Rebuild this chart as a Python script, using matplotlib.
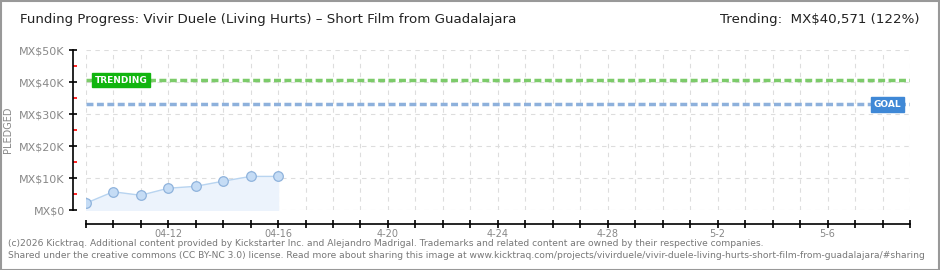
import pandas as pd
import matplotlib.pyplot as plt
from matplotlib.patches import Rectangle
from matplotlib.ticker import MultipleLocator, FuncFormatter

# ---------- DATA ----------
dates = ["2026-04-09", "2026-04-10", "2026-04-11", "2026-04-12",
         "2026-04-13", "2026-04-14", "2026-04-15", "2026-04-16"]
pledged = [2100, 5700, 4600, 6800, 7400, 9000, 10500, 10500]

goal = 33000
trending = 40571
axis_start = "2026-04-09"
axis_end = "2026-05-09"
label_dates = ["2026-04-12", "2026-04-16", "2026-04-20", "2026-04-24",
               "2026-04-28", "2026-05-02", "2026-05-06"]
label_text = ["04-12", "04-16", "4-20", "4-24", "4-28", "5-2", "5-6"]

title = "Funding Progress: Vivir Duele (Living Hurts) \u2013 Short Film from Guadalajara"
trend_text = "Trending:  MX$40,571 (122%)"
footer1 = ("(c)2026 Kicktraq. Additional content provided by Kickstarter Inc. and Alejandro Madrigal. "
           "Trademarks and related content are owned by their respective companies.")
footer2 = ("Shared under the creative commons (CC BY-NC 3.0) license. Read more about sharing this image at "
           "www.kicktraq.com/projects/vivirduele/vivir-duele-living-hurts-short-film-from-guadalajara/#sharing")

x = pd.to_datetime(dates)
x0 = pd.to_datetime(axis_start)
x1 = pd.to_datetime(axis_end)

# ---------- FIGURE ----------
fig = plt.figure(figsize=(9.4, 2.7), dpi=100)
W, H = 940, 270
ax = fig.add_axes([85.7 / W, 60 / H, (910 - 85.7) / W, 160 / H])

ax.set_xlim(x0, x1)
ax.set_ylim(0, 50000)

# ticks + grid
all_days = pd.date_range(x0, x1, freq="D")
ax.set_xticks(all_days)
ax.set_xticklabels([label_text[label_dates.index(d.strftime("%Y-%m-%d"))]
                    if d.strftime("%Y-%m-%d") in label_dates else "" for d in all_days])
ax.yaxis.set_major_locator(MultipleLocator(10000))
ax.yaxis.set_minor_locator(MultipleLocator(5000))
ax.yaxis.set_major_formatter(FuncFormatter(lambda v, p: "MX$0" if v == 0 else f"MX${int(v/1000)}K"))
ax.grid(True, which="major", color="#dddddd", linestyle=(0, (4, 4)), linewidth=0.8)

for s in ["top", "right"]:
    ax.spines[s].set_visible(False)
ax.spines["left"].set_position(("outward", 9))
ax.spines["bottom"].set_position(("outward", 10))
ax.spines["left"].set_linewidth(1.2)
ax.spines["bottom"].set_linewidth(1.2)

ax.tick_params(axis="y", which="major", direction="inout", length=6, width=1.2,
               color="black", labelsize=8, labelcolor="#888888", pad=3)
ax.tick_params(axis="y", which="minor", direction="in", length=3, width=1.2, color="red")
ax.tick_params(axis="x", which="major", direction="inout", length=6, width=1.2,
               color="black", labelsize=7, labelcolor="#888888", pad=1)

ax.set_ylabel("PLEDGED", fontsize=7, color="#888888")
ax.yaxis.set_label_coords((13 - 85.7) / (910 - 85.7), 0.5)

# data
ax.fill_between(x, pledged, 0, color="#ecf3fc", zorder=2)
ax.plot(x, pledged, color="#b8d4f0", linewidth=1, zorder=3)
ax.scatter(x, pledged, s=48, color="#c5dcf5", edgecolor="#8fb3dc", linewidth=0.9, zorder=4)

# goal + trending lines
ax.axhline(trending, color="#7ccb6a", linestyle=(0, (2, 1)), linewidth=2.5, zorder=3)
ax.axhline(goal, color="#8eb1dc", linestyle=(0, (2, 1)), linewidth=2.5, zorder=3)
ax.text(pd.to_datetime("2026-04-09 08:00"), trending, "TRENDING", color="white",
        fontsize=6.5, fontweight="bold", va="center", ha="left", zorder=5,
        bbox=dict(boxstyle="square,pad=0.3", facecolor="#11b50f", edgecolor="#11b50f"))
ax.text(pd.to_datetime("2026-05-07 16:00"), goal, "GOAL", color="white",
        fontsize=6.5, fontweight="bold", va="center", ha="left", zorder=5,
        bbox=dict(boxstyle="square,pad=0.3", facecolor="#3f88d6", edgecolor="#3f88d6"))

# titles
fig.text(20 / W, 1 - 20 / H, title, fontsize=9.6, color="#222222", va="center", ha="left")
fig.text(920 / W, 1 - 20 / H, trend_text, fontsize=9.6, color="#222222", va="center", ha="right")

# footer
fig.text(8 / W, 1 - 243 / H, footer1, fontsize=6.6, color="#777777", va="center", ha="left",
         family=["Liberation Sans Narrow", "DejaVu Sans"])
fig.text(8 / W, 1 - 256 / H, footer2, fontsize=6.6, color="#777777", va="center", ha="left",
         family=["Liberation Sans Narrow", "DejaVu Sans"])

# frame
fig.add_artist(Rectangle((0.5 / W, 0.5 / H), 1 - 1.5 / W, 1 - 1.5 / H, transform=fig.transFigure,
                         fill=False, edgecolor="#999999", linewidth=1.5))

fig.savefig("out.png", dpi=100)
